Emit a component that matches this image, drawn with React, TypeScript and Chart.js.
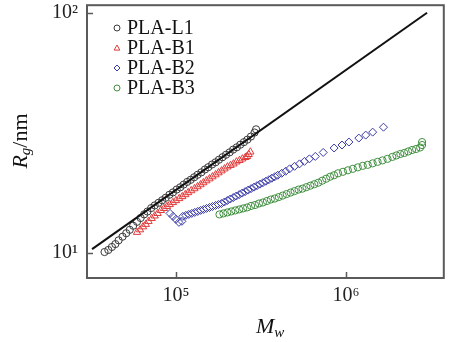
import { useEffect, useRef } from 'react';
import { Chart, registerables } from 'chart.js';

Chart.register(...registerables);

const xTicks = [1e5, 1e6];
const xTickLabels = ['10⁵', '10⁶'];
const yTicks = [10, 100];
const yTickLabels = ['10¹', '10²'];

const seriesNames = ['PLA-L1', 'PLA-B1', 'PLA-B2', 'PLA-B3'];
const seriesColors = ['#3a3a3a', '#e23a3a', '#3a3aa6', '#3f8f3f'];
const seriesStyles = ['circle', 'triangle', 'rectRot', 'circle'];

const l1Mw = [38000, 40000, 42000, 44000, 46000, 48500, 51000, 53500, 56000, 59000, 62000, 65000, 68000, 71500, 75000, 79000, 83000, 87000, 91500, 96000, 101000, 106000, 111000, 116500, 122000, 128000, 134000, 141000, 148000, 155000, 163000, 171000, 179000, 188000, 197000, 207000, 217000, 228000, 239000, 251000, 263000, 276000, 290000, 296000];
const l1Rg = [10.1, 10.3, 10.6, 10.9, 11.3, 11.7, 12.1, 12.5, 13.0, 13.5, 14.0, 14.5, 14.9, 15.4, 15.8, 16.2, 16.6, 17.0, 17.5, 17.9, 18.4, 18.8, 19.3, 19.8, 20.2, 20.7, 21.2, 21.7, 22.3, 22.8, 23.4, 23.9, 24.5, 25.1, 25.7, 26.3, 27.0, 27.6, 28.3, 29.0, 29.7, 30.6, 31.8, 32.8];

const b1Mw = [59000, 61500, 64000, 66500, 69000, 72000, 75000, 78000, 81500, 85000, 88500, 92000, 96000, 100000, 104500, 109000, 113500, 118000, 123000, 128500, 134000, 139500, 145000, 151000, 157500, 164000, 171000, 178000, 185500, 193000, 201000, 209500, 218000, 227000, 236500, 246000, 256000, 262000, 268000, 274000];
const b1Rg = [12.21, 12.51, 12.87, 13.18, 13.56, 13.95, 14.29, 14.63, 15.06, 15.35, 15.64, 15.94, 16.25, 16.56, 16.88, 17.2, 17.53, 17.87, 18.21, 18.56, 18.92, 19.28, 19.65, 20.03, 20.41, 20.81, 21.21, 21.62, 22.03, 22.45, 22.88, 23.21, 23.54, 24.0, 24.34, 24.7, 25.05, 25.29, 25.78, 26.4];

const b2Mw = [92300, 96100, 100000, 104100, 108400, 109800, 114300, 119000, 123900, 129000, 134300, 139800, 145500, 151400, 157600, 164100, 170900, 177800, 185100, 192700, 200600, 208800, 217400, 226300, 235600, 245200, 255300, 265700, 276600, 288000, 299700, 312000, 324800, 338200, 352000, 366400, 381400, 397000, 419000, 441900, 466300, 498600, 533100, 570000, 609600, 660300, 735000, 851700, 947800, 1041000, 1190000, 1307000, 1436000, 1663000];
const b2Rg = [14.63, 14.22, 13.82, 13.43, 13.56, 14.22, 14.36, 14.49, 14.63, 14.77, 14.91, 15.06, 15.2, 15.35, 15.49, 15.64, 15.79, 15.94, 16.09, 16.32, 16.56, 16.8, 17.04, 17.28, 17.53, 17.78, 18.04, 18.3, 18.56, 18.83, 19.1, 19.37, 19.65, 19.93, 20.22, 20.51, 20.81, 21.11, 21.51, 21.93, 22.45, 22.99, 23.54, 24.11, 24.7, 25.29, 26.27, 27.42, 28.21, 29.03, 30.16, 31.03, 31.93, 33.48];

const b3Mw = [180300, 190100, 200600, 211600, 223300, 235600, 248500, 262200, 276600, 291800, 307800, 324800, 342700, 361500, 381400, 402400, 424500, 447900, 472500, 498600, 526000, 554900, 585500, 617700, 651600, 687500, 725300, 765200, 807200, 851700, 898500, 960700, 1027000, 1098000, 1174000, 1256000, 1343000, 1436000, 1535000, 1641000, 1755000, 1876000, 1980000, 2089000, 2203000, 2325000, 2452000, 2587000, 2729000, 2804000, 2804000];
const b3Rg = [14.49, 14.63, 14.77, 14.91, 15.06, 15.2, 15.35, 15.49, 15.72, 15.86, 16.09, 16.25, 16.48, 16.72, 16.88, 17.12, 17.36, 17.62, 17.87, 18.13, 18.39, 18.56, 18.83, 19.1, 19.37, 19.65, 20.03, 20.41, 20.81, 21.11, 21.51, 21.82, 22.13, 22.45, 22.77, 23.1, 23.32, 23.66, 24.0, 24.34, 24.7, 25.17, 25.53, 25.89, 26.14, 26.52, 26.9, 27.16, 27.55, 28.21, 29.03];

const fitMw = [32100, 3000000];
const fitRg = [10.39, 100.5];

const SERIF = '"Liberation Serif", "Times New Roman", serif';

const toPts = (xs: number[], ys: number[]) => xs.map((v, i) => ({ x: v, y: ys[i] }));

function drawMarker(ctx: CanvasRenderingContext2D, style: string, x: number, y: number, r: number) {
  ctx.beginPath();
  if (style === 'circle') {
    ctx.arc(x, y, r, 0, Math.PI * 2);
  } else if (style === 'triangle') {
    ctx.moveTo(x, y - r);
    ctx.lineTo(x + r * 0.95, y + r * 0.7);
    ctx.lineTo(x - r * 0.95, y + r * 0.7);
    ctx.closePath();
  } else {
    ctx.moveTo(x, y - r);
    ctx.lineTo(x + r, y);
    ctx.lineTo(x, y + r);
    ctx.lineTo(x - r, y);
    ctx.closePath();
  }
  ctx.stroke();
}

const decorPlugin = {
  id: 'decor',
  afterDraw(chart: any) {
    const { ctx, chartArea: a, scales } = chart;
    const xs = scales.x;
    const ys = scales.y;
    ctx.save();
    // frame
    ctx.strokeStyle = '#5a5a5a';
    ctx.lineWidth = 2;
    ctx.strokeRect(a.left, a.top, a.right - a.left, a.bottom - a.top);
    // inward ticks
    ctx.lineWidth = 1.5;
    xTicks.forEach((v) => {
      const px = Math.round(xs.getPixelForValue(v)) + 0.5;
      ctx.beginPath();
      ctx.moveTo(px, a.bottom);
      ctx.lineTo(px, a.bottom - 6);
      ctx.stroke();
    });
    yTicks.forEach((v) => {
      const py = Math.round(ys.getPixelForValue(v)) + 0.5;
      ctx.beginPath();
      ctx.moveTo(a.left, py);
      ctx.lineTo(a.left + 6, py);
      ctx.stroke();
    });
    // legend
    const rows = [28, 48, 68, 88];
    ctx.textBaseline = 'middle';
    ctx.textAlign = 'left';
    ctx.font = `20px ${SERIF}`;
    seriesNames.forEach((name, i) => {
      ctx.strokeStyle = seriesColors[i];
      ctx.lineWidth = 1;
      drawMarker(ctx, seriesStyles[i], 117, rows[i], 3);
      ctx.fillStyle = '#111';
      ctx.fillText(name, 127, rows[i] + 1);
    });
    // y title: R_g/nm
    ctx.save();
    ctx.translate(20, 141);
    ctx.rotate(-Math.PI / 2);
    ctx.textBaseline = 'alphabetic';
    ctx.fillStyle = '#111';
    const fR = `italic 22px ${SERIF}`;
    const fg = `italic 15px ${SERIF}`;
    const fn = `22px ${SERIF}`;
    ctx.font = fR; const wR = ctx.measureText('R').width;
    ctx.font = fg; const wg = ctx.measureText('g').width;
    ctx.font = fn; const wn = ctx.measureText('/nm').width;
    let sx = -(wR + wg + wn) / 2;
    ctx.font = fR; ctx.fillText('R', sx, 7); sx += wR;
    ctx.font = fg; ctx.fillText('g', sx, 10); sx += wg;
    ctx.font = fn; ctx.fillText('/nm', sx, 7);
    ctx.restore();
    // x title: M_w
    ctx.textBaseline = 'alphabetic';
    ctx.fillStyle = '#111';
    ctx.font = `italic 22px ${SERIF}`;
    const wM = ctx.measureText('M').width;
    ctx.fillText('M', 256, 333);
    ctx.font = `italic 15px ${SERIF}`;
    ctx.fillText('w', 256 + wM, 337);
    ctx.restore();
  },
};

export default function App() {
  const ref = useRef<HTMLCanvasElement | null>(null);
  useEffect(() => {
    document.body.style.margin = '0';
    const canvas = ref.current;
    if (!canvas) return;
    const scatterDs = (i: number, xs: number[], ys: number[], r: number) => ({
      type: 'scatter' as const,
      label: seriesNames[i],
      data: toPts(xs, ys),
      pointStyle: seriesStyles[i],
      pointRadius: r,
      pointBorderWidth: 1,
      borderColor: seriesColors[i],
      backgroundColor: 'rgba(0,0,0,0)',
      showLine: false,
    });
    const chart = new Chart(canvas, {
      type: 'scatter',
      data: {
        datasets: [
          {
            type: 'line',
            label: 'fit',
            data: toPts(fitMw, fitRg),
            borderColor: '#111',
            borderWidth: 2,
            pointRadius: 0,
            showLine: true,
            fill: false,
          } as any,
          scatterDs(0, l1Mw, l1Rg, 3.6),
          scatterDs(1, b1Mw, b1Rg, 4.2),
          scatterDs(2, b2Mw, b2Rg, 4),
          scatterDs(3, b3Mw, b3Rg, 3.6),
        ],
      },
      options: {
        animation: false,
        responsive: false,
        layout: { padding: { top: 5, right: 1, left: 0, bottom: 0 } },
        plugins: { legend: { display: false }, tooltip: { enabled: false } },
        scales: {
          x: {
            type: 'logarithmic',
            min: 29970,
            max: 3764000,
            border: { display: false },
            grid: { display: false, drawTicks: false },
            afterBuildTicks: (s: any) => {
              s.ticks = xTicks.map((v) => ({ value: v }));
            },
            afterFit: (s: any) => {
              s.height = 64;
              s.paddingLeft = 0;
              s.paddingRight = 0;
            },
            ticks: {
              padding: 6,
              autoSkip: false,
              maxRotation: 0,
              color: '#222',
              font: { family: SERIF, size: 20 },
              callback: (v: any) => xTickLabels[xTicks.indexOf(Number(v))] ?? '',
            },
          },
          y: {
            type: 'logarithmic',
            min: 7.87,
            max: 108,
            border: { display: false },
            grid: { display: false, drawTicks: false },
            afterBuildTicks: (s: any) => {
              s.ticks = yTicks.map((v) => ({ value: v }));
            },
            afterFit: (s: any) => {
              s.width = 87;
              s.paddingTop = 0;
              s.paddingBottom = 0;
            },
            ticks: {
              padding: 9,
              autoSkip: false,
              color: '#222',
              font: { family: SERIF, size: 20 },
              callback: (v: any) => yTickLabels[yTicks.indexOf(Number(v))] ?? '',
            },
          },
        },
      },
      plugins: [decorPlugin],
    });
    return () => chart.destroy();
  }, []);
  return (
    <div style={{ width: 449, height: 342 }}>
      <canvas ref={ref} width={449} height={342} style={{ display: 'block' }} />
    </div>
  );
}
